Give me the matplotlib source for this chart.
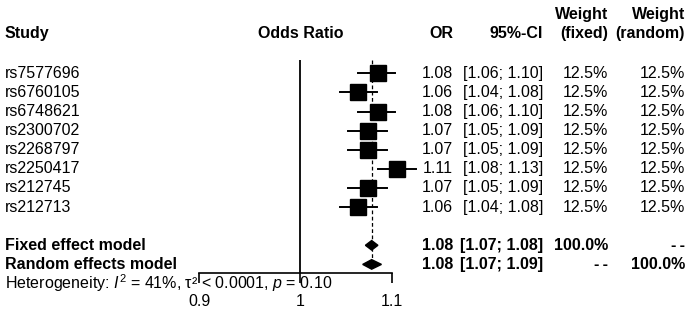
import matplotlib
matplotlib.use("Agg")
import matplotlib.pyplot as plt
from matplotlib.patches import Polygon
from matplotlib.transforms import blended_transform_factory
from matplotlib.ticker import NullLocator

plt.rcParams['font.family'] = ['Liberation Sans', 'DejaVu Sans']
plt.rcParams['mathtext.fontset'] = 'custom'
plt.rcParams['mathtext.rm'] = 'Liberation Sans'
plt.rcParams['mathtext.it'] = 'Liberation Sans:italic'

# 資料
studies = ["rs7577696", "rs6760105", "rs6748621", "rs2300702",
           "rs2268797", "rs2250417", "rs212745", "rs212713"]
odds = [1.084, 1.062, 1.084, 1.073, 1.073, 1.106, 1.073, 1.062]
lower = [1.062, 1.042, 1.062, 1.051, 1.051, 1.084, 1.051, 1.042]
upper = [1.104, 1.083, 1.104, 1.094, 1.094, 1.128, 1.094, 1.083]
w_fixed = [12.5] * 8
w_random = [12.5] * 8

fixed_est, fixed_lo, fixed_hi = 1.077, 1.070, 1.084
random_est, random_lo, random_hi = 1.077, 1.067, 1.088
hetero = "Heterogeneity: $I^2$ = 41%, \u03c4\u00b2 < 0.0001, $p$ = 0.10"
dash2 = "-\u2009-"

fs = 11.5
W, H = 689, 311

fig = plt.figure(figsize=(W / 100, H / 100), dpi=100)
ax = fig.add_axes([199 / W, (H - 273) / H, 193 / W, 213 / H])
ax.set_xscale('log')
ax.set_xlim(0.9, 1.1)
ax.set_ylim(11.45, 0.3)

rows = list(range(1, len(studies) + 1))
row_fixed = len(studies) + 2
row_random = len(studies) + 3
row_het = len(studies) + 4

# 參考線
ax.axvline(1, color='black', lw=1.3)
ax.plot([fixed_est, fixed_est], [0.3, row_random], color='black', lw=0.9,
        linestyle=(0, (3, 2)))

# 各研究
for r, o, lo, hi in zip(rows, odds, lower, upper):
    ax.plot([lo, hi], [r, r], color='black', lw=1.4, clip_on=False, zorder=3)
    ax.plot(o, r, marker='s', markersize=11, color='black', clip_on=False, zorder=4)

# 合併效應 (菱形)
for r, e, lo, hi in [(row_fixed, fixed_est, fixed_lo, fixed_hi),
                     (row_random, random_est, random_lo, random_hi)]:
    ax.add_patch(Polygon([(lo, r), (e, r - 0.25), (hi, r), (e, r + 0.25)],
                         closed=True, color='black', clip_on=False, zorder=4))

# 座標軸
for s in ['top', 'right', 'left']:
    ax.spines[s].set_visible(False)
ax.spines['bottom'].set_linewidth(1.2)
ax.set_yticks([])
ax.set_xticks([0.9, 1, 1.1])
ax.set_xticklabels(['0.9', '1', '1.1'])
ax.xaxis.set_minor_locator(NullLocator())
ax.tick_params(axis='x', length=7.5, width=1.2, pad=7.5, labelsize=fs)

# 文字欄位
tr = blended_transform_factory(fig.transFigure, ax.transData)
x_study, x_or, x_ci, x_wf, x_wr = 5 / W, 453 / W, 543 / W, 608 / W, 685 / W
y_head = -1.1
y_head2 = -2.1

ax.text(x_study, y_head, "Study", transform=tr, fontsize=fs, fontweight='bold', va='center')
ax.text(1, y_head, "Odds Ratio", fontsize=fs, fontweight='bold', va='center', ha='center')
ax.text(x_or, y_head, "OR", transform=tr, fontsize=fs, fontweight='bold', va='center', ha='right')
ax.text(x_ci, y_head, "95%-CI", transform=tr, fontsize=fs, fontweight='bold', va='center', ha='right')
ax.text(x_wf, y_head2, "Weight", transform=tr, fontsize=fs, fontweight='bold', va='center', ha='right')
ax.text(x_wf, y_head, "(fixed)", transform=tr, fontsize=fs, fontweight='bold', va='center', ha='right')
ax.text(x_wr, y_head2, "Weight", transform=tr, fontsize=fs, fontweight='bold', va='center', ha='right')
ax.text(x_wr, y_head, "(random)", transform=tr, fontsize=fs, fontweight='bold', va='center', ha='right')

for r, name, o, lo, hi, wf, wr in zip(rows, studies, odds, lower, upper, w_fixed, w_random):
    ax.text(x_study, r, name, transform=tr, fontsize=fs, va='center')
    ax.text(x_or, r, f"{o:.2f}", transform=tr, fontsize=fs, va='center', ha='right')
    ax.text(x_ci, r, f"[{lo:.2f}; {hi:.2f}]", transform=tr, fontsize=fs, va='center', ha='right')
    ax.text(x_wf, r, f"{wf:.1f}%", transform=tr, fontsize=fs, va='center', ha='right')
    ax.text(x_wr, r, f"{wr:.1f}%", transform=tr, fontsize=fs, va='center', ha='right')

summary = [(row_fixed, "Fixed effect model", fixed_est, fixed_lo, fixed_hi, "100.0%", dash2),
           (row_random, "Random effects model", random_est, random_lo, random_hi, dash2, "100.0%")]
for r, name, e, lo, hi, wf, wr in summary:
    kw = dict(transform=tr, fontsize=fs, fontweight='bold', va='center')
    ax.text(x_study, r, name, **kw)
    ax.text(x_or, r, f"{e:.2f}", ha='right', **kw)
    ax.text(x_ci, r, f"[{lo:.2f}; {hi:.2f}]", ha='right', **kw)
    ax.text(x_wf, r, wf, ha='right', **kw)
    ax.text(x_wr, r, wr, ha='right', **kw)

ax.text(x_study, row_het, hetero, transform=tr, fontsize=fs, va='center', clip_on=False)

fig.savefig("out.png", dpi=100)
